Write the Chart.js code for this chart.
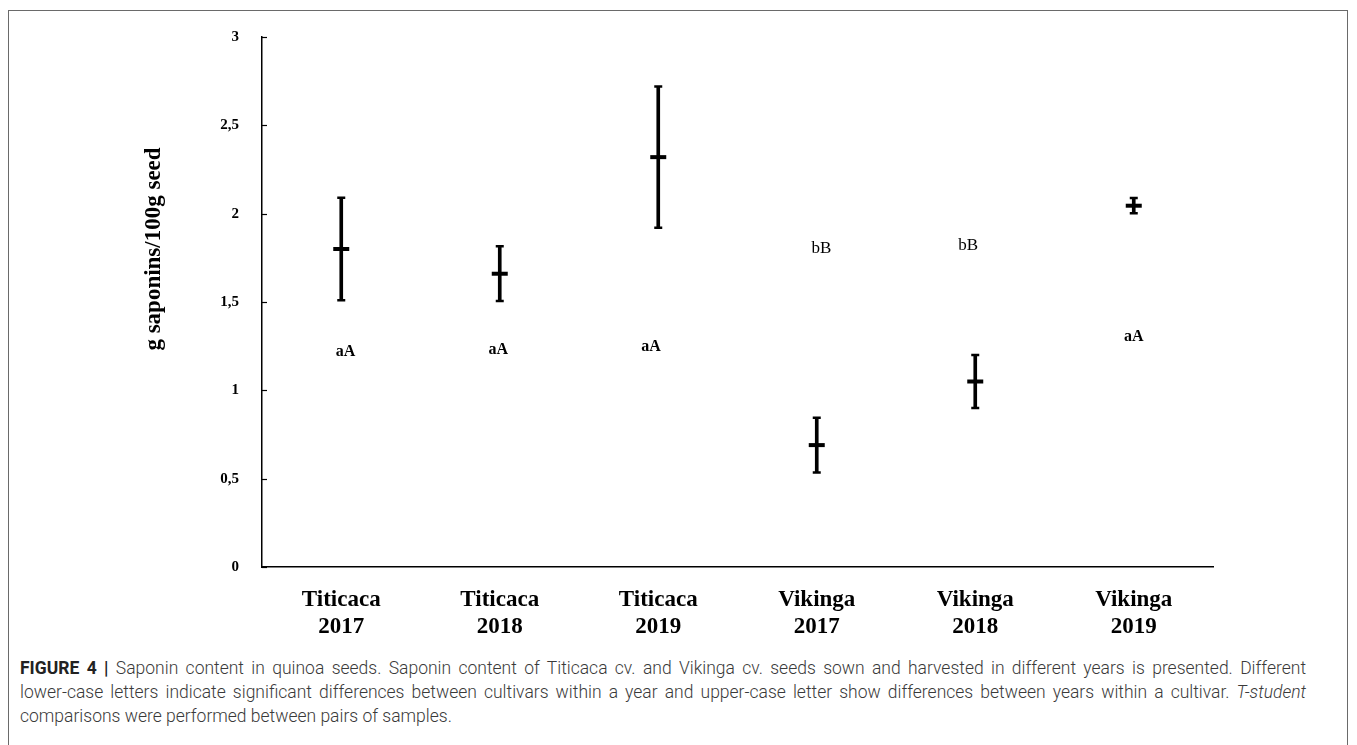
<!DOCTYPE html>
<html>
<head>
<meta charset="utf-8">
<script src="https://cdn.jsdelivr.net/npm/chart.js@4/dist/chart.umd.min.js"></script>
<style>
  html, body { margin: 0; padding: 0; background: #fff; }
  body { width: 1357px; height: 745px; position: relative; overflow: hidden; }
  #frame {
    position: absolute; left: 8px; top: 10px; width: 1340px; height: 800px;
    border: 1px solid #6a6a6a; box-sizing: border-box;
  }
  #plot { position: absolute; left: 0; top: 0; }
  #caption {
    position: absolute; left: 20px; top: 656px; width: 1286px;
    font-family: Roboto, "Liberation Sans", sans-serif; font-weight: 300;
    font-size: 17.5px; line-height: 24px; color: #3a3a3a;
  }
  #caption b { font-weight: 700; color: #222; }
  #caption span { display: block; white-space: normal; }
  #caption .full { text-align: justify; text-align-last: justify; }
</style>
</head>
<body>
<div id="frame"></div>
<canvas id="plot" width="1357" height="645"></canvas>
<div id="caption">
  <span class="full"><b>FIGURE 4 |</b> Saponin content in quinoa seeds. Saponin content of Titicaca cv. and Vikinga cv. seeds sown and harvested in different years is presented. Different</span>
  <span class="full">lower-case letters indicate significant differences between cultivars within a year and upper-case letter show differences between years within a cultivar. <i>T-student</i></span>
  <span>comparisons were performed between pairs of samples.</span>
</div>
<script>
// Cultivar / harvest year groups
const categories = [
  ['Titicaca', '2017'], ['Titicaca', '2018'], ['Titicaca', '2019'],
  ['Vikinga', '2017'], ['Vikinga', '2018'], ['Vikinga', '2019']
];
// Mean saponin content (g / 100 g seed) and its error
const meanSaponin = [1.80, 1.66, 2.32, 0.69, 1.05, 2.045];
const errSaponin  = [0.29, 0.155, 0.40, 0.155, 0.15, 0.043];
// Significance letters and the value level where each one is written
const letterLabels = ['aA', 'aA', 'aA', 'bB', 'bB', 'aA'];
const letterLevel  = [1.217, 1.228, 1.247, 1.80, 1.818, 1.303];

const lowSaponin  = meanSaponin.map((m, i) => m - errSaponin[i]);
const highSaponin = meanSaponin.map((m, i) => m + errSaponin[i]);

const SERIF = '"Liberation Serif", "Times New Roman", serif';
const AREA = { left: 262, top: 37, right: 1213, bottom: 567 };

// small horizontal shift of each letter pair within its category slot
const letterShift = [0.027, -0.01, -0.045, 0.03, -0.044, 0];

const decorations = {
  id: 'decorations',
  afterDraw(chart) {
    const { ctx, scales: { x, y } } = chart;
    ctx.save();
    // inward tick marks on the value axis
    ctx.strokeStyle = '#000';
    ctx.lineWidth = 1.2;
    y.ticks.forEach(t => {
      const py = Math.round(y.getPixelForValue(t.value)) + 0.5;
      ctx.beginPath();
      ctx.moveTo(x.left, py);
      ctx.lineTo(x.left + 5, py);
      ctx.stroke();
    });
    // significance letters
    const slot = x.width / categories.length;
    ctx.fillStyle = '#000';
    ctx.textAlign = 'center';
    ctx.textBaseline = 'middle';
    letterLabels.forEach((txt, i) => {
      const bold = txt === 'aA';
      ctx.font = (bold ? 'bold 16px ' : '17px ') + SERIF;
      const px = x.getPixelForValue(i) + letterShift[i] * slot;
      ctx.fillText(txt, px, y.getPixelForValue(letterLevel[i]));
    });
    // value axis title
    ctx.font = 'bold 23px ' + SERIF;
    ctx.textBaseline = 'alphabetic';
    ctx.translate(160, y.top + (y.bottom - y.top) * 0.4);
    ctx.rotate(-Math.PI / 2);
    ctx.fillText('g saponins/100g seed', 0, 0);
    ctx.restore();
  }
};

new Chart(document.getElementById('plot'), {
  data: {
    labels: categories,
    datasets: [
      {
        type: 'bar',
        label: 'range',
        data: meanSaponin.map((m, i) => [lowSaponin[i], highSaponin[i]]),
        backgroundColor: '#000',
        barThickness: 3,
        order: 3
      },
      {
        type: 'line',
        label: 'low',
        data: lowSaponin,
        showLine: false,
        pointStyle: 'line',
        pointRadius: 4,
        pointBorderWidth: 2.5,
        borderColor: '#000',
        order: 2
      },
      {
        type: 'line',
        label: 'high',
        data: highSaponin,
        showLine: false,
        pointStyle: 'line',
        pointRadius: 4,
        pointBorderWidth: 2.5,
        borderColor: '#000',
        order: 2
      },
      {
        type: 'line',
        label: 'mean',
        data: meanSaponin,
        showLine: false,
        pointStyle: 'line',
        pointRadius: 8,
        pointBorderWidth: 4,
        borderColor: '#000',
        order: 1
      }
    ]
  },
  options: {
    responsive: false,
    devicePixelRatio: 1,
    animation: false,
    events: [],
    layout: { padding: { left: 0, top: AREA.top, right: 1357 - AREA.right, bottom: 0 } },
    plugins: { legend: { display: false }, tooltip: { enabled: false } },
    scales: {
      x: {
        type: 'category',
        offset: true,
        grid: { display: false },
        border: { display: true, color: '#000', width: 1.5 },
        ticks: {
          color: '#000',
          padding: 12,
          maxRotation: 0,
          autoSkip: false,
          font: { family: SERIF, size: 23, weight: 'bold', lineHeight: 1.17 }
        },
        afterFit(s) { s.height = 645 - AREA.bottom; }
      },
      y: {
        min: 0,
        max: 3,
        grid: { display: false },
        border: { display: true, color: '#000', width: 1.5 },
        ticks: {
          stepSize: 0.5,
          color: '#000',
          padding: 15,
          font: { family: SERIF, size: 15, weight: 'bold' },
          callback: v => String(v).replace('.', ',')
        },
        afterFit(s) { s.width = AREA.left; }
      }
    }
  },
  plugins: [decorations]
});
</script>
</body>
</html>
